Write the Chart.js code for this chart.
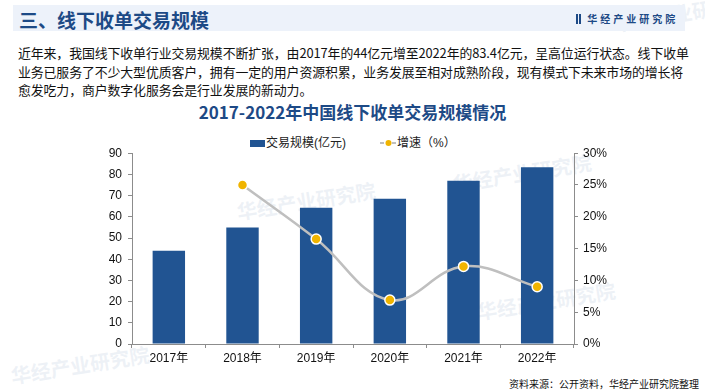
<!DOCTYPE html>
<html><head><meta charset="utf-8">
<script src="https://cdn.jsdelivr.net/npm/chart.js@4"></script>
<style>
html,body{margin:0;padding:0;background:#fff;width:705px;height:392px;overflow:hidden;font-family:"Liberation Sans","Noto Sans CJK SC",sans-serif;}
.cjk{font-family:"Noto Sans CJK SC",sans-serif;}
#hdr{position:absolute;left:13px;top:5px;width:672px;height:26px;background:#edf2fa;}
#hdr .t{position:absolute;left:6px;top:1px;font-size:19px;font-weight:bold;color:#1d4a86;}
#hdr .logo{position:absolute;left:563px;top:6px;font-size:10px;font-weight:bold;color:#1d4a86;letter-spacing:3px;white-space:nowrap;}
#hdr .logo i{display:inline-block;width:2px;height:10px;background:#1d4a86;margin-right:1px;vertical-align:-1px;}
#para{position:absolute;left:18px;top:44px;font-size:12.9px;line-height:18.5px;color:#111;letter-spacing:-0.1px;}
#para div{white-space:nowrap;}
#title{position:absolute;left:0;width:705px;top:99px;text-align:center;font-size:17px;font-weight:bold;color:#1d4a86;}
#wrap{position:absolute;left:80px;top:140px;width:560px;height:230px;}
#src{position:absolute;right:6px;top:376px;font-size:10px;color:#111;}
.lg{position:absolute;top:134px;font-size:12px;color:#222;white-space:nowrap;line-height:18px;}
.wm{position:absolute;font-size:20px;font-weight:bold;color:rgba(205,215,230,0.35);transform:rotate(-9deg);white-space:nowrap;font-family:"Noto Sans CJK SC",sans-serif;}
</style></head><body>
<div class="wm" style="left:236px;top:186px;">华经产业研究院</div>
<div class="wm" style="left:452px;top:158px;">华经产业研究院</div>
<div class="wm" style="left:476px;top:286px;">华经产业研究院</div>
<div class="wm" style="left:10px;top:350px;">华经产业研究院</div>
<div class="wm" style="left:612px;top:-2px;">华经产业研究院</div>
<div id="hdr" class="cjk"><div class="t">三、线下收单交易规模</div><div class="logo"><i></i><i></i> 华经产业研究院</div></div>
<div id="para" class="cjk">
<div>近年来，我国线下收单行业交易规模不断扩张，由2017年的44亿元增至2022年的83.4亿元，呈高位运行状态。线下收单</div>
<div>业务已服务了不少大型优质客户，拥有一定的用户资源积累，业务发展至相对成熟阶段，现有模式下未来市场的增长将</div>
<div>愈发吃力，商户数字化服务会是行业发展的新动力。</div>
</div>
<div id="title" class="cjk">2017-2022年中国线下收单交易规模情况</div>
<div class="lg" style="left:250px;"><span style="display:inline-block;width:15px;height:7px;background:#215492;vertical-align:0px;margin-right:1px;"></span><span id="lg0"></span></div>
<div class="lg" style="left:380px;"><svg width="17" height="8" style="vertical-align:0px;"><line x1="0" y1="4" x2="17" y2="4" stroke="#bfbfbf" stroke-width="2" stroke-dasharray="4,2"/><circle cx="8.5" cy="4" r="3" fill="#f0b400"/></svg><span id="lg1"></span></div>
<div id="wrap"><canvas id="c"></canvas></div>
<div id="src" class="cjk">资料来源：公开资料，华经产业研究院整理</div>
<script>
const categories = ["2017年","2018年","2019年","2020年","2021年","2022年"];
const scaleValues = [44, 55, 64.3, 68.5, 77, 83.4];
const growthValues = [null, 25.0, 16.5, 6.9, 12.2, 9.0];
const seriesNames = ["交易规模(亿元)", "增速（%）"];
const leftTicks = {min:0, max:90, step:10};
const rightTicks = {min:0, max:30, step:5};

document.getElementById('lg0').textContent = seriesNames[0];
document.getElementById('lg1').textContent = seriesNames[1];

const FONT = '"Liberation Sans","Noto Sans CJK SC",sans-serif';
const AX = '#8c8c8c';

new Chart(document.getElementById('c'), {
  data: {
    labels: categories,
    datasets: [
      {type:'line', label: seriesNames[1], data: growthValues, yAxisID:'y1', order:0,
       borderColor:'#bfbfbf', borderWidth:2.5, tension:0.4,
       pointBackgroundColor:'#f0b400', pointBorderColor:'#ffffff', pointBorderWidth:1.5, pointRadius:5},
      {type:'bar', label: seriesNames[0], data: scaleValues, yAxisID:'y', order:1,
       backgroundColor:'#215492', barPercentage:0.44, categoryPercentage:1.0}
    ]
  },
  options: {
    responsive:true, maintainAspectRatio:false, animation:false,
    layout:{padding:{top:11,bottom:0,left:0,right:0}},
    plugins:{ tooltip:{enabled:false}, legend:{display:false} },
    scales:{
      x:{
        grid:{drawOnChartArea:false, drawTicks:true, tickLength:4, color:AX, offset:true},
        border:{display:true, color:AX},
        ticks:{font:{family:FONT,size:12}, color:'#111', padding:3},
        afterFit(s){ s.height = 26; }
      },
      y:{
        position:'left', min:leftTicks.min, max:leftTicks.max,
        ticks:{stepSize:leftTicks.step, font:{family:FONT,size:12}, color:'#111', padding:6},
        grid:{drawOnChartArea:false, drawTicks:true, tickLength:4, color:AX},
        border:{display:true, color:AX},
        afterFit(s){ s.width = 52; }
      },
      y1:{
        position:'right', min:rightTicks.min, max:rightTicks.max,
        ticks:{stepSize:rightTicks.step, font:{family:FONT,size:12}, color:'#111', padding:5, callback:v=>v+'%'},
        grid:{drawOnChartArea:false, drawTicks:true, tickLength:4, color:AX},
        border:{display:true, color:AX},
        afterFit(s){ s.width = 66; }
      }
    }
  }
});
</script>
</body></html>
